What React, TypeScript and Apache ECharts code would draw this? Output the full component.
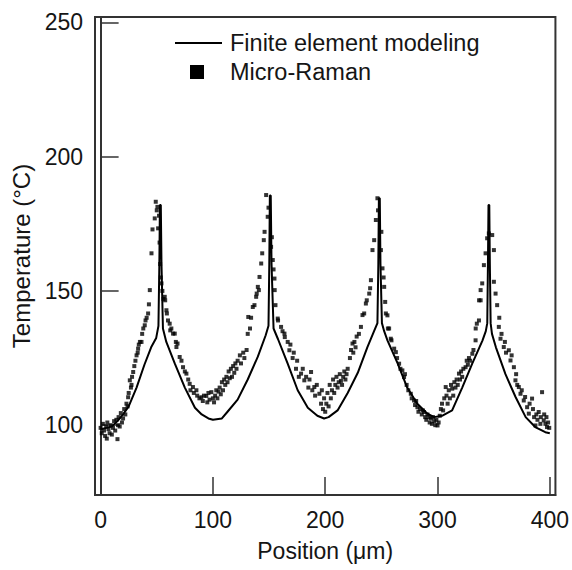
import React, { useEffect, useRef } from "react";
import * as echarts from "echarts";

const xTicks = [0, 100, 200, 300, 400];
const yTicks = [100, 150, 200, 250];

const feLabel = "Finite element modeling";
const ramanLabel = "Micro-Raman";

// Finite element modeling curve [position µm, temperature °C]
const feCurve: [number, number][] = [
  [0, 98.5], [5, 99], [10, 99.5], [15, 101.5], [20, 104], [25, 107], [32, 114], [39, 122.5],
  [45, 129], [49.5, 132.5], [51.5, 137], [52.3, 160], [52.8, 182], [53.6, 182], [54.2, 160],
  [55.5, 136], [58.5, 131], [66, 123], [75, 114], [84, 106.5], [90, 104], [96, 102.5], [100, 102],
  [108, 102.5], [113, 105], [122, 109.5], [131, 117], [140, 125.5], [147, 133.5], [149.5, 137],
  [150.2, 160], [150.7, 185.5], [151.5, 185.5], [152.2, 160], [154, 136], [158, 132], [166.5, 123],
  [175.5, 113], [184.5, 106.5], [193, 103.5], [199, 102.5], [203, 103], [211, 105.5], [220, 112],
  [229, 119.5], [237.5, 129], [243.5, 135], [246.5, 138], [247.3, 160], [247.8, 184.5],
  [248.6, 184.5], [249.2, 160], [250.5, 138], [252.5, 135], [255.5, 131.5], [264.5, 123],
  [273, 114], [282, 108], [291, 104.3], [297, 103], [304, 103.5], [313, 105.5], [322, 114],
  [331, 123], [340, 131.5], [343, 135], [344.3, 138], [344.9, 160], [345.4, 182], [346.1, 182],
  [346.6, 160], [347.3, 138], [348.5, 134], [352, 129], [360.5, 119], [369.5, 110.5],
  [378.5, 103], [387, 99.3], [396, 97.4], [400, 97],
];

// Micro-Raman measurements [position µm, temperature °C]
const ramanStart: [number, number][] = [
  [0, 99], [1, 97], [2, 100.5], [3, 98], [4, 96], [5, 99.5], [5.5, 95], [6, 101], [7, 98.5], [8, 97],
  [9, 100], [10, 96.5], [11, 99], [12, 101.5], [13, 98], [14, 102], [15, 94.8], [15.5, 100], [16, 103],
  [17, 99.5], [18, 104.5], [19, 101], [20, 102.5],
];
const ramanPeak1: [number, number][] = [
  [21, 106], [22, 104], [23, 108], [24, 107], [24.5, 110.4], [25, 112], [26, 116.7], [27, 114],
  [27.5, 115], [28, 118], [29, 119.8], [30, 122], [31, 124], [32, 126], [33, 127], [33.4, 128.5],
  [34, 130], [35, 131], [36.4, 131], [37, 134], [38, 136], [39.3, 137.2], [40, 139], [41, 140],
  [42.3, 141.6], [43, 145], [43.8, 150.3], [45.3, 164], [46.2, 172.9], [48.2, 177], [49.1, 183.2],
  [50, 180], [50.6, 181.3], [51.2, 173.3], [52, 178], [52.5, 168], [53, 160], [53.5, 155],
  [54.2, 152.8], [55, 150], [56, 147], [57.1, 147.8], [57.5, 146.5], [58.6, 142.8], [59, 141.6],
  [60, 139], [61.5, 137.8], [62, 135.3], [63, 136], [64.5, 134.1], [66, 134.1], [67, 131],
  [67.5, 129.1], [68.5, 130.4], [70.4, 125.4], [72, 124], [73.4, 121.6], [75, 120], [76.4, 119.2],
  [78, 117], [79.3, 115.4], [80, 113], [82.2, 114.2], [83, 112], [85.3, 113], [86, 111], [88, 110],
  [89.7, 110.4],
];
const ramanPeak2: [number, number][] = [
  [91, 109], [92, 111], [94.1, 110.9], [95, 108.5], [96, 112], [97, 109.5], [98.6, 112.3], [100, 110],
  [101, 108.5], [102, 111], [103, 113], [104, 110], [105, 112.5], [106, 114], [107, 111.5], [108, 116],
  [109, 113], [110, 117], [111, 115], [112, 118], [113, 116], [114, 120], [115, 117.5], [116, 121],
  [117, 118], [118, 122], [119, 119.5], [120, 123], [121, 121], [122, 124], [124, 126], [125, 123],
  [127, 127], [128, 125], [130, 128], [131, 134], [131.5, 140.3], [133, 136], [134, 140],
  [135.5, 144], [137, 144.7], [138.5, 147.8], [139, 149], [140, 151.5], [140.9, 150.3],
  [141.5, 155.2], [143, 160.2], [143.9, 164], [145.3, 168.9], [146, 172], [147.4, 185.7],
  [148.8, 177.6], [149.5, 181], [151.8, 166.4], [152.5, 170], [153.3, 161.5], [154, 158],
  [154.8, 154.6], [155, 150.3], [155.7, 144.7], [157.7, 139.7], [158, 139], [160.7, 136.6],
  [162, 135], [163.7, 134.1], [164, 132.8], [166.6, 131], [168.1, 127.9], [169, 130], [171, 125],
  [172, 127], [174, 121], [175, 124], [176.5, 118], [178.5, 119.2], [180, 121], [181.4, 116.7],
  [183, 118], [185, 114], [186, 117], [187.4, 119.8], [188.5, 113], [190.3, 114.2], [191, 111],
  [192.5, 115], [194.8, 111.7], [196.3, 108], [197, 113], [198, 106],
];
const ramanPeak3: [number, number][] = [
  [199, 110], [200, 105], [201, 108], [202, 112], [203, 107], [204, 115], [205, 110], [206, 113],
  [207, 117], [208, 112], [209, 115], [210, 118], [211, 114], [212, 116], [213, 119], [214, 116.5],
  [215, 115], [216, 118], [217, 120], [218, 117], [219, 119], [220, 121], [222, 125], [223, 128],
  [224.3, 130.4], [225, 127], [226, 131], [227, 129], [228, 133], [230, 134], [231.8, 136.6],
  [233.2, 141], [234.7, 141.6], [236.2, 145.3], [237, 146.5], [239.2, 149], [240, 151],
  [240.7, 154], [242.1, 165.2], [243.6, 168.9], [245.1, 176.4], [246.5, 184.5], [247, 180],
  [249.6, 165.2], [250, 172], [251, 158.4], [252, 155], [252.5, 151.5], [253.4, 145.9], [254, 141.6],
  [255.4, 140.9], [255.8, 136], [256.9, 136], [258.4, 132.2], [259, 131.6], [261.4, 128.5],
  [262.9, 127.2], [264, 125], [265.8, 122.9], [267, 121], [268.7, 120.4], [270.2, 117.9], [271, 119],
  [272.5, 115], [274, 113], [276.2, 111.7], [277, 110], [279.1, 109.2], [280, 107.5], [281, 109],
  [282.1, 106.7], [283, 105], [284.5, 106], [286, 104], [287, 105.5], [288, 104.9], [289, 103],
  [290, 102], [291, 104], [292.5, 103], [293, 101], [294, 102.5], [295, 100.5], [296, 103],
  [297, 101.5], [298, 100], [299, 102], [300, 99.9], [301, 101], [302, 103.5],
];
const ramanPeak4: [number, number][] = [
  [303, 106], [304, 108], [305, 105.5], [306, 110], [307.3, 114.2], [308, 111], [309, 108], [310, 113],
  [311, 110], [312, 115], [313.1, 113.6], [314, 111], [315, 116], [316, 114], [317, 117], [318, 115],
  [319.1, 119.2], [320, 117], [321, 120], [322, 118], [323, 121], [325, 121.6], [326, 124],
  [327, 122.5], [328, 125], [329, 124], [331, 126.6], [332, 128], [333.9, 131.6], [334, 136],
  [335, 137.8], [336.9, 139], [337, 146.5], [338.4, 146.5], [338.4, 150.3], [339.8, 152.8],
  [341.3, 159.6], [342.8, 164], [344.2, 169.6], [345.7, 171.4], [348.7, 170.8], [350.2, 165.2],
  [350.2, 153.4], [351.7, 149], [353.1, 144.7], [354.6, 136.6], [355, 140], [356.1, 132.2],
  [357, 134], [359, 129.1], [360, 131], [361, 127], [363.5, 127.9], [365, 124.1], [366, 126],
  [368, 121.6], [369.4, 116.7], [370, 119], [371, 115], [372.4, 114.2], [373.9, 111.7], [375, 113],
  [376.8, 109.2], [378, 110.5], [379.8, 106.7], [381.3, 104.3], [382, 108], [384.2, 109.9],
  [385, 106], [386, 103], [387.2, 99.9], [388, 104], [389, 102], [390.1, 104.9], [391.6, 100.5],
  [392, 103], [393.1, 112.3], [394.6, 101.8], [395, 104], [396.1, 100.5], [397, 103], [397.5, 99.3],
  [398.5, 101], [399.5, 99],
];

const FONT = "'Liberation Sans', Arial, Helvetica, sans-serif";
const INK = "#151515";

export default function App() {
  const ref = useRef<HTMLDivElement>(null);

  useEffect(() => {
    if (!ref.current) return;
    const chart = echarts.init(ref.current, undefined, { renderer: "svg" });
    const raman = [...ramanStart, ...ramanPeak1, ...ramanPeak2, ...ramanPeak3, ...ramanPeak4];

    chart.setOption({
      animation: false,
      backgroundColor: "#ffffff",
      textStyle: { fontFamily: FONT },
      grid: {
        left: 95,
        right: 15,
        top: 17,
        bottom: 75,
        show: true,
        borderColor: "#333",
        borderWidth: 2,
        backgroundColor: "transparent",
      },
      xAxis: {
        type: "value",
        min: -5,
        max: 405,
        name: "Position (\u03bcm)",
        nameLocation: "middle",
        nameGap: 44,
        nameTextStyle: { fontSize: 23, color: INK, fontFamily: FONT },
        axisLine: { show: true, lineStyle: { color: "#333", width: 2 } },
        axisTick: {
          show: true,
          inside: true,
          length: 18,
          customValues: xTicks,
          lineStyle: { color: "#333", width: 1.5 },
        },
        axisLabel: {
          customValues: xTicks,
          fontSize: 23,
          color: INK,
          margin: 13,
          fontFamily: FONT,
        },
        splitLine: { show: false },
      },
      yAxis: {
        type: "value",
        min: 74,
        max: 252,
        name: "Temperature (\u00b0C)",
        nameLocation: "middle",
        nameGap: 58,
        nameRotate: 90,
        nameTextStyle: { fontSize: 24, color: INK, fontFamily: FONT },
        axisLine: { show: true, lineStyle: { color: "#333", width: 2 } },
        axisTick: {
          show: true,
          inside: true,
          length: 18,
          customValues: yTicks,
          lineStyle: { color: "#333", width: 1.5 },
        },
        axisLabel: {
          customValues: yTicks,
          fontSize: 23,
          color: INK,
          margin: 12,
          fontFamily: FONT,
        },
        splitLine: { show: false },
      },
      series: [
        {
          name: feLabel,
          type: "line",
          data: feCurve,
          showSymbol: false,
          symbol: "none",
          smooth: false,
          lineStyle: { color: "#000", width: 2 },
          z: 2,
        },
        {
          name: ramanLabel,
          type: "scatter",
          data: raman,
          symbol: "rect",
          symbolSize: 4,
          itemStyle: { color: "#000" },
          z: 3,
        },
      ],
      graphic: [
        {
          type: "line",
          shape: { x1: 175, y1: 43, x2: 222, y2: 43 },
          style: { stroke: "#000", lineWidth: 2 },
        },
        {
          type: "text",
          x: 230,
          y: 43,
          style: {
            text: feLabel,
            fontSize: 23.5,
            fontFamily: FONT,
            fill: INK,
            verticalAlign: "middle",
            align: "left",
          },
        },
        {
          type: "rect",
          shape: { x: 190, y: 65, width: 14, height: 14 },
          style: { fill: "#000" },
        },
        {
          type: "text",
          x: 230,
          y: 72,
          style: {
            text: ramanLabel,
            fontSize: 23.5,
            fontFamily: FONT,
            fill: INK,
            verticalAlign: "middle",
            align: "left",
          },
        },
      ],
    });

    return () => chart.dispose();
  }, []);

  return (
    <div
      ref={ref}
      style={{ position: "fixed", left: 0, top: 0, width: 572, height: 570, background: "#fff" }}
    />
  );
}
